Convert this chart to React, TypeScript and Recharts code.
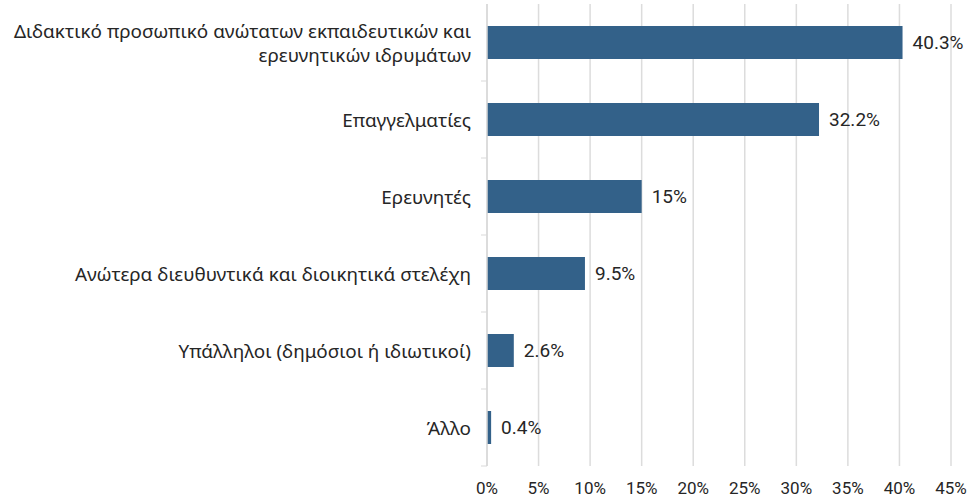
import React from "react";
import { BarChart, Bar, XAxis, YAxis, CartesianGrid, LabelList } from "recharts";

const categories = [
  "Διδακτικό προσωπικό ανώτατων εκπαιδευτικών και\nερευνητικών ιδρυμάτων",
  "Επαγγελματίες",
  "Ερευνητές",
  "Ανώτερα διευθυντικά και διοικητικά στελέχη",
  "Υπάλληλοι (δημόσιοι ή ιδιωτικοί)",
  "Άλλο",
];
const values = [40.3, 32.2, 15, 9.5, 2.6, 0.4];
const xTicks = [0, 5, 10, 15, 20, 25, 30, 35, 40, 45];

const data = categories.map((name, i) => ({ name, value: values[i] }));

const BAR = "#336189";
const FONT = "Roboto, 'Noto Sans', sans-serif";
const LABEL_FONT = "'Noto Sans', Roboto, sans-serif";

function CategoryTick(props: any) {
  const { x, y, payload } = props;
  const lines = String(payload.value).split("\n");
  const lh = 24;
  const startDy = -((lines.length - 1) * lh) / 2;
  return (
    <g>
      <line x1={x + 10} x2={x + 16} y1={y + 38.5} y2={y + 38.5} stroke="#d9d9d9" />
      <text
        x={x}
        y={y}
        textAnchor="end"
        fill="#262626"
        fontSize={18.9}
        fontFamily={LABEL_FONT}
        dominantBaseline="central"
      >
        {lines.map((l, i) => (
          <tspan key={i} x={x} dy={i === 0 ? startDy : lh}>
            {l}
          </tspan>
        ))}
      </text>
    </g>
  );
}

export default function App() {
  return (
    <div style={{ position: "absolute", left: 0, top: 0, background: "#fff" }}>
      <BarChart
        width={971}
        height={500}
        data={data}
        layout="vertical"
        margin={{ top: 4, right: 20, bottom: 0, left: 0 }}
        barCategoryGap={0}
      >
        <CartesianGrid horizontal={false} stroke="#dcdcdc" strokeWidth={1.5} />
        <XAxis
          type="number"
          domain={[0, 45]}
          ticks={xTicks}
          tickFormatter={(v) => `${v}%`}
          axisLine={false}
          tickLine={false}
          tickSize={0}
          tickMargin={16}
          height={34}
          interval={0}
          tick={{ fill: "#262626", fontSize: 17, fontFamily: FONT }}
        />
        <YAxis
          type="category"
          dataKey="name"
          width={487}
          axisLine={{ stroke: "#d9d9d9", strokeWidth: 1.5 }}
          tickLine={false}
          tickSize={0}
          tickMargin={16}
          interval={0}
          tick={<CategoryTick />}
        />
        <Bar dataKey="value" fill={BAR} barSize={33} isAnimationActive={false}>
          <LabelList
            dataKey="value"
            position="right"
            offset={10}
            formatter={(v: any) => `${v}%`}
            fill="#262626"
            fontSize={19}
            fontFamily={FONT}
          />
        </Bar>
      </BarChart>
    </div>
  );
}
